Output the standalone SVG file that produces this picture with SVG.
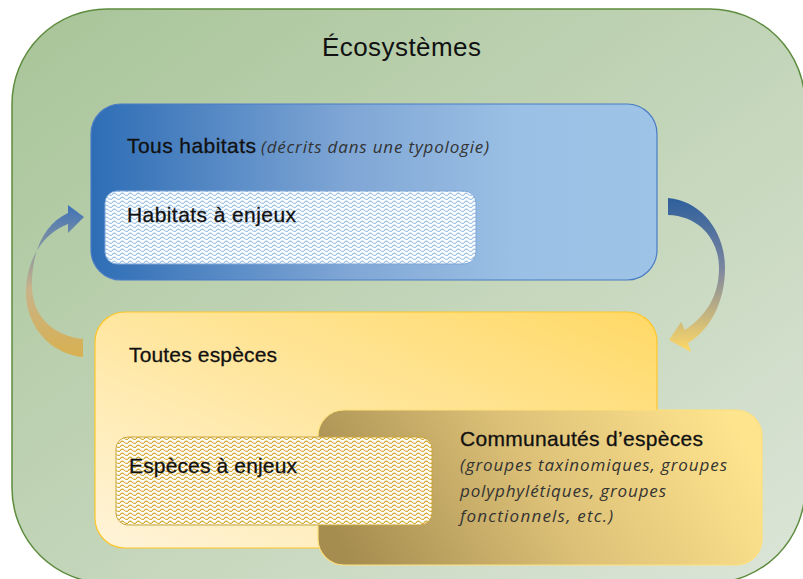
<svg xmlns="http://www.w3.org/2000/svg" width="803" height="579" viewBox="0 0 803 579">
  <defs>
    <linearGradient id="gGreen" x1="0" y1="0" x2="1" y2="1">
      <stop offset="0" stop-color="#A8C498"/>
      <stop offset="1" stop-color="#DCE5D8"/>
    </linearGradient>
    <linearGradient id="gBlue" x1="0" y1="0" x2="1" y2="0">
      <stop offset="0" stop-color="#2E6DB5"/>
      <stop offset="0.45" stop-color="#7FA6D5"/>
      <stop offset="0.75" stop-color="#9BC0E5"/>
      <stop offset="1" stop-color="#9DC3E6"/>
    </linearGradient>
    <linearGradient id="gYellow" x1="0" y1="1" x2="1" y2="0">
      <stop offset="0" stop-color="#FFF4DA"/>
      <stop offset="1" stop-color="#FFD966"/>
    </linearGradient>
    <linearGradient id="gGold" x1="0" y1="0.6" x2="1" y2="0.4">
      <stop offset="0" stop-color="#A58D50"/>
      <stop offset="0.5" stop-color="#DCC077"/>
      <stop offset="1" stop-color="#FFE48E"/>
    </linearGradient>
    <linearGradient id="gArrowL" gradientUnits="userSpaceOnUse" x1="0" y1="357" x2="0" y2="205">
      <stop offset="0" stop-color="#D8B050"/>
      <stop offset="0.45" stop-color="#C8B48A"/>
      <stop offset="1" stop-color="#3F72B8"/>
    </linearGradient>
    <linearGradient id="gArrowR" gradientUnits="userSpaceOnUse" x1="0" y1="198" x2="0" y2="352">
      <stop offset="0" stop-color="#2D5F9C"/>
      <stop offset="0.45" stop-color="#7A85A0"/>
      <stop offset="1" stop-color="#FFD966"/>
    </linearGradient>
    <pattern id="waveBlue" width="8" height="4" patternUnits="userSpaceOnUse">
      <rect width="8" height="4" fill="#FFFFFF"/>
      <path d="M0 3 Q2 -0.2 4 2 T8 3" fill="none" stroke="#9DC3E6" stroke-width="1.1"/>
    </pattern>
    <pattern id="waveGold" width="8" height="4" patternUnits="userSpaceOnUse">
      <rect width="8" height="4" fill="#FFFFFF"/>
      <path d="M0 3 Q2 -0.2 4 2 T8 3" fill="none" stroke="#D4A82A" stroke-width="1.1"/>
    </pattern>
  </defs>
  <style>
    .lbl { font-family: "Liberation Sans", Arial, sans-serif; font-size: 21px; fill: #111111; stroke: #111111; stroke-width: 0.3px; }
    .it { font-family: "Open Sans", "Liberation Sans", sans-serif; font-style: italic; font-size: 17px; fill: #333333; }
  </style>

  <g id="ecosystemes">
    <rect x="12" y="9" width="793" height="574" rx="95" ry="95" fill="url(#gGreen)" stroke="#5E8C3E" stroke-width="1.5"/>
    <text x="401.5" y="56" text-anchor="middle" font-family="'Liberation Sans', Arial, sans-serif" font-size="26" fill="#111111" textLength="159">Écosystèmes</text>
  </g>

  <g id="tous-habitats">
    <rect x="91" y="104" width="566" height="176" rx="30" ry="30" fill="url(#gBlue)" stroke="#4A7CC4" stroke-width="1.2"/>
    <text class="lbl" x="127" y="153" textLength="129">Tous habitats</text>
    <text class="it" x="261" y="153" textLength="228">(décrits dans une typologie)</text>
  </g>

  <g id="habitats-enjeux">
    <rect x="105" y="191" width="371" height="73" rx="12" ry="12" fill="url(#waveBlue)" stroke="#7EA6D8" stroke-width="1"/>
    <text class="lbl" x="127" y="222" textLength="169">Habitats à enjeux</text>
  </g>

  <g id="toutes-especes">
    <rect x="95" y="312" width="562" height="236" rx="30" ry="30" fill="url(#gYellow)" stroke="#FFC62A" stroke-width="1.2"/>
    <text class="lbl" x="129" y="362" textLength="148">Toutes espèces</text>
  </g>

  <g id="communautes">
    <rect x="318" y="410" width="444" height="155" rx="26" ry="26" fill="url(#gGold)" stroke="#FFE07A" stroke-width="1.2"/>
    <text class="lbl" x="460" y="446" textLength="243">Communautés d’espèces</text>
    <text class="it" x="460" y="471" textLength="267">(groupes taxinomiques, groupes</text>
    <text class="it" x="460" y="497" textLength="206">polyphylétiques, groupes</text>
    <text class="it" x="460" y="522" textLength="153">fonctionnels, etc.)</text>
  </g>

  <g id="especes-enjeux">
    <rect x="116" y="437" width="316" height="88" rx="12" ry="12" fill="url(#waveGold)" stroke="#C9A53A" stroke-width="1"/>
    <text class="lbl" x="129" y="473" textLength="168">Espèces à enjeux</text>
  </g>

  <g id="connectors">
    <path d="M83,357 C50,354 24,325 26,288 C28,255 46,232 68,224 L68,233 L84,217 L68,205 L68,213 C44,224 31,252 32,288 C33,318 55,336 83,339 Z" fill="url(#gArrowL)"/>
    <path d="M668,198 C702,201 725,232 725,268 C725,302 710,330 688,343 L691,352 L669,340 L681,322 L685,330 C706,316 719,296 719,268 C719,240 700,216 668,215 Z" fill="url(#gArrowR)"/>
  </g>
</svg>
